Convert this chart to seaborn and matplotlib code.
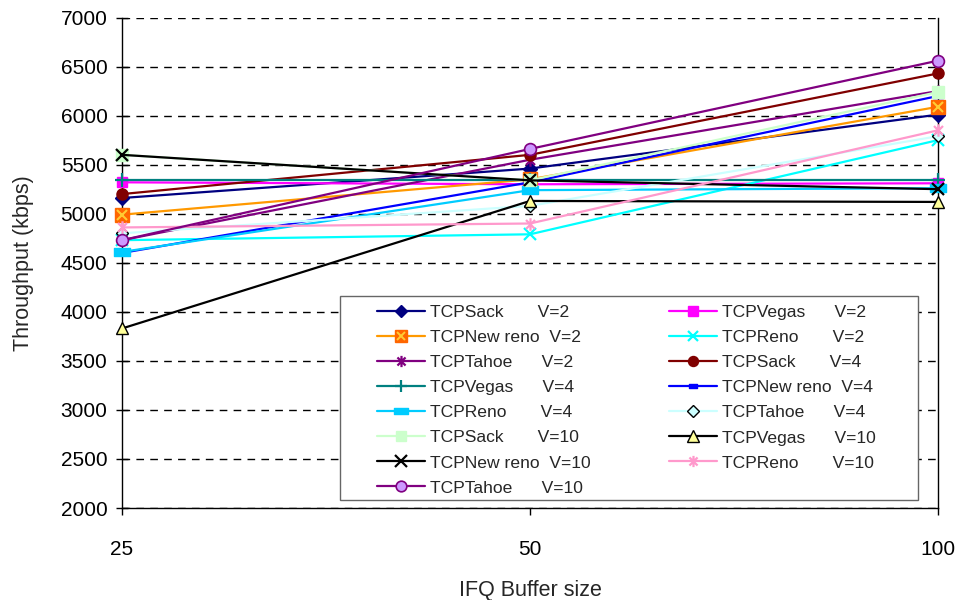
import numpy as np
import pandas as pd
import matplotlib
matplotlib.use("Agg")
import matplotlib.pyplot as plt
from matplotlib.lines import Line2D
from matplotlib.path import Path
from matplotlib.patches import Rectangle
from matplotlib.legend_handler import HandlerTuple
import seaborn as sns

# IFQ buffer sizes (categorical x axis)
buffer_sizes = ["25", "50", "100"]

# Throughput (kbps) per TCP variant and V setting
sack_v2 = [5160, 5460, 6010]
vegas_v2 = [5320, 5300, 5310]
newreno_v2 = [4990, 5350, 6090]
reno_v2 = [4730, 4790, 5750]
tahoe_v2 = [4730, 5550, 6250]
sack_v4 = [5200, 5600, 6430]
vegas_v4 = [5340, 5340, 5340]
newreno_v4 = [4600, 5320, 6200]
reno_v4 = [4610, 5240, 5260]
tahoe_v4 = [4800, 5080, 5790]
sack_v10 = [5600, 5340, 6240]
vegas_v10 = [3830, 5130, 5120]
newreno_v10 = [5600, 5340, 5250]
reno_v10 = [4860, 4900, 5850]
tahoe_v10 = [4730, 5660, 6560]

labels = [
    "TCPSack       V=2", "TCPVegas      V=2", "TCPNew reno  V=2",
    "TCPReno       V=2", "TCPTahoe      V=2",
    "TCPSack       V=4", "TCPVegas      V=4", "TCPNew reno  V=4",
    "TCPReno       V=4", "TCPTahoe      V=4",
    "TCPSack       V=10", "TCPVegas      V=10", "TCPNew reno  V=10",
    "TCPReno       V=10", "TCPTahoe      V=10",
]
values = [sack_v2, vegas_v2, newreno_v2, reno_v2, tahoe_v2,
          sack_v4, vegas_v4, newreno_v4, reno_v4, tahoe_v4,
          sack_v10, vegas_v10, newreno_v10, reno_v10, tahoe_v10]

# asterisk marker: vertical bar plus an x
asterisk = Path([(0, -1), (0, 1), (-0.72, -0.72), (0.72, 0.72), (-0.72, 0.72), (0.72, -0.72)],
                [Path.MOVETO, Path.LINETO, Path.MOVETO, Path.LINETO, Path.MOVETO, Path.LINETO])
short_bar = Path([(-0.5, -0.25), (0.5, -0.25), (0.5, 0.25), (-0.5, 0.25), (-0.5, -0.25)],
                 [Path.MOVETO, Path.LINETO, Path.LINETO, Path.LINETO, Path.CLOSEPOLY])

styles = [
    dict(color="#000080", marker="D", ms=7, mfc="#000080", mec="#000080"),
    dict(color="#FF00FF", marker="s", ms=7.5, mfc="#FF00FF", mec="#FF00FF"),
    dict(color="#FF9900", marker="s", ms=9.5, mfc="#FF6600", mec="#FF6600"),
    dict(color="#00FFFF", marker="x", ms=8, mfc="none", mec="#00FFFF", mew=1.6),
    dict(color="#800080", marker=asterisk, ms=9, mfc="none", mec="#800080", mew=1.6),
    dict(color="#800000", marker="o", ms=8, mfc="#800000", mec="#800000"),
    dict(color="#008080", marker="+", ms=10, mfc="none", mec="#008080", mew=1.6),
    dict(color="#0000FF", marker=short_bar, ms=7, mfc="#0000FF", mec="#0000FF"),
    dict(color="#00CCFF", marker=short_bar, ms=11, mfc="#00CCFF", mec="#00CCFF"),
    dict(color="#CCFFFF", marker="D", ms=6.5, mfc="#CCFFFF", mec="black", mew=1.0),
    dict(color="#CCFFCC", marker="s", ms=8.5, mfc="#CCFFCC", mec="#CCFFCC"),
    dict(color="black", marker="^", ms=9, mfc="#FFFF99", mec="black", mew=1.0),
    dict(color="black", marker="x", ms=9, mfc="none", mec="black", mew=1.6),
    dict(color="#FF99CC", marker=asterisk, ms=9, mfc="none", mec="#FF99CC", mew=1.6),
    dict(color="#800080", marker="o", ms=8.5, mfc="#CC99FF", mec="#800080", mew=1.2),
]

sns.set_theme(style="white")
plt.rcParams["font.family"] = ["Liberation Sans", "DejaVu Sans"]

W, H = 963, 600
fig = plt.figure(figsize=(W / 100, H / 100), dpi=100)
ax = fig.add_axes([122 / W, 1 - 508 / H, 816 / W, 490.5 / H])

xpos = np.arange(len(buffer_sizes))
handles = []
for i, (lab, vals, st) in enumerate(zip(labels, values, styles)):
    df = pd.DataFrame({"x": xpos, "y": vals})
    sns.lineplot(data=df, x="x", y="y", ax=ax, color=st["color"], lw=1.6,
                 marker=st["marker"], markersize=st["ms"],
                 markerfacecolor=st["mfc"], markeredgecolor=st["mec"],
                 markeredgewidth=st.get("mew", 1.0), zorder=3 + i, clip_on=False,
                 legend=False)
    h = Line2D([], [], color=st["color"], lw=1.6, marker=st["marker"],
               markersize=st["ms"] * 0.9, markerfacecolor=st["mfc"],
               markeredgecolor=st["mec"], markeredgewidth=st.get("mew", 1.0))
    if i == 2:
        # x drawn over the square marker
        sns.lineplot(data=df, x="x", y="y", ax=ax, color="#FF9900", lw=0,
                     marker="x", markersize=7, markeredgecolor="#FFCC33",
                     markeredgewidth=1.5, zorder=3 + i + 0.5, clip_on=False,
                     legend=False)
        hx = Line2D([], [], lw=0, marker="x", markersize=6.3,
                    markeredgecolor="#FFCC33", markeredgewidth=1.4)
        h = (h, hx)
    handles.append(h)

ax.set_xlim(0, 2)
ax.set_ylim(2000, 7000)
ax.set_xticks(xpos)
ax.set_xticklabels(buffer_sizes)
ax.set_yticks(np.arange(2000, 7001, 500))

ax.yaxis.grid(True, color="black", lw=1.0, linestyle=(0, (5.5, 4.5)))
ax.set_axisbelow(True)

for side in ["left", "bottom", "right"]:
    ax.spines[side].set_visible(True)
    ax.spines[side].set_color("black")
    ax.spines[side].set_linewidth(1.0)
ax.spines["top"].set_visible(False)

ax.tick_params(axis="y", direction="inout", length=9, width=1, colors="black",
               labelsize=15, pad=6, left=True, right=False)
ax.tick_params(axis="x", direction="out", length=5, width=1, colors="black",
               labelsize=15, pad=18, bottom=True)

ax.set_xlabel("IFQ Buffer size", fontsize=15.5, labelpad=15)
ax.set_ylabel("Throughput (kbps)", fontsize=15.5, labelpad=19)

# legend box
ax.add_patch(Rectangle((340 / W, 1 - 500 / H), 578 / W, 204 / H,
                       transform=fig.transFigure, facecolor="white",
                       edgecolor="#666666", lw=1.0, clip_on=False, zorder=40))

# legend: two columns, filled row by row
order = list(range(0, 15, 2)) + list(range(1, 15, 2))
leg = ax.legend([handles[k] for k in order], [labels[k] for k in order],
                ncol=2, loc="upper left",
                bbox_to_anchor=(377 / W, 1 - 305 / H), bbox_transform=fig.transFigure,
                borderaxespad=0, fontsize=12.6, frameon=False,
                handlelength=2.74, handletextpad=0.3, labelspacing=0.56,
                borderpad=0, columnspacing=4.45,
                handler_map={tuple: HandlerTuple(ndivide=1)})
leg.set_zorder(50)

fig.savefig("out.png", dpi=100, facecolor="white")
